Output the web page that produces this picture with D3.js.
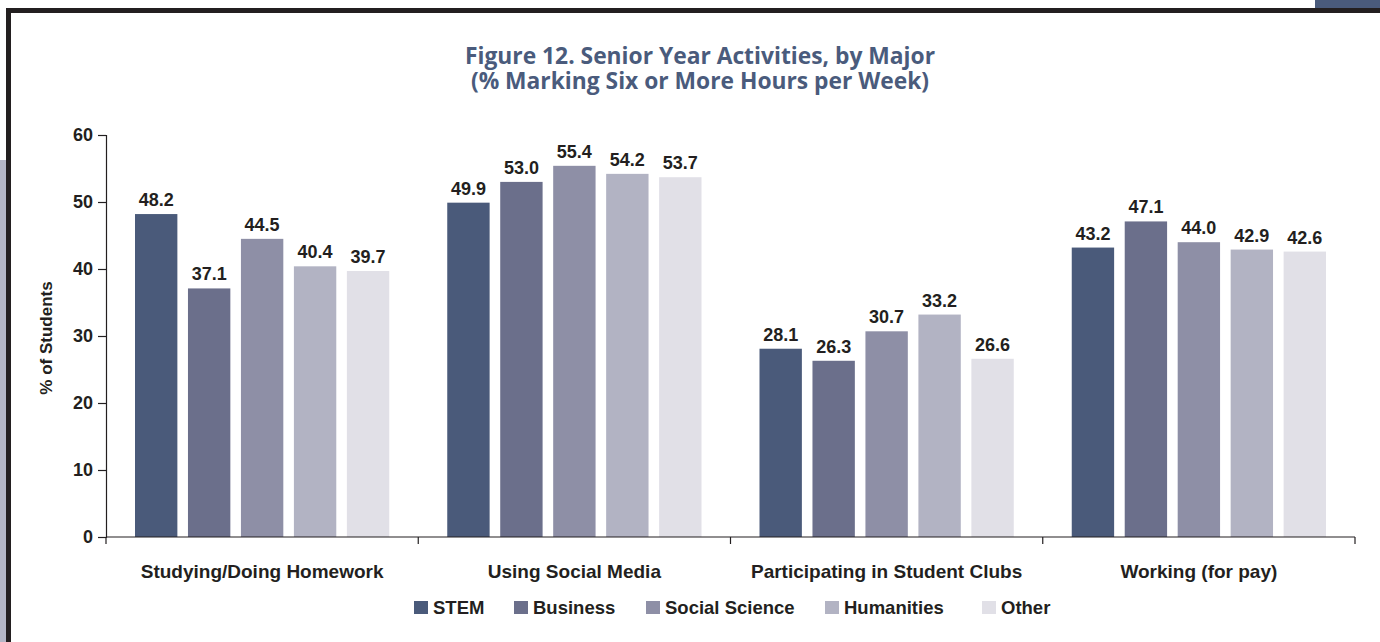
<!DOCTYPE html>
<html>
<head>
<meta charset="utf-8">
<script src="https://cdn.jsdelivr.net/npm/d3@7"></script>
<style>
  html, body { margin: 0; padding: 0; background: #fff; }
  svg { display: block; }
</style>
</head>
<body>
<svg id="chart" width="1380" height="642"></svg>
<script>
// Activities shown along the x axis
const activities = [
  "Studying/Doing Homework",
  "Using Social Media",
  "Participating in Student Clubs",
  "Working (for pay)"
];
// Majors (one bar per major inside each activity group)
const majors = ["STEM", "Business", "Social Science", "Humanities", "Other"];
const majorColors = ["#4a5a7a", "#6b6f8b", "#8e8fa6", "#b2b3c3", "#e1e0e7"];

// % of students marking six or more hours per week, per major
const stemValues        = [48.2, 49.9, 28.1, 43.2];
const businessValues    = [37.1, 53.0, 26.3, 47.1];
const socialSciValues   = [44.5, 55.4, 30.7, 44.0];
const humanitiesValues  = [40.4, 54.2, 33.2, 42.9];
const otherValues       = [39.7, 53.7, 26.6, 42.6];
const seriesValues = [stemValues, businessValues, socialSciValues, humanitiesValues, otherValues];

const yTicks = [0, 10, 20, 30, 40, 50, 60];

const titleLines = [
  "Figure 12. Senior Year Activities, by Major",
  "(% Marking Six or More Hours per Week)"
];

const svg = d3.select("#chart");
const labelFont = "'Liberation Sans', Arial, Helvetica, sans-serif";
const ink = "#231f20";

// Page frame
svg.append("rect").attr("x", 1315).attr("y", 0).attr("width", 65).attr("height", 9).attr("fill", "#4a5b7c");
svg.append("rect").attr("x", 0).attr("y", 160).attr("width", 7).attr("height", 482).attr("fill", "#b4b6c6");
svg.append("rect").attr("x", 6).attr("y", 8).attr("width", 1374).attr("height", 5).attr("fill", ink);
svg.append("rect").attr("x", 6).attr("y", 8).attr("width", 5).attr("height", 634).attr("fill", ink);

// Title, two lines
svg.append("g")
  .selectAll("text").data(titleLines).join("text")
  .attr("x", 700).attr("y", (d, i) => 64 + i * 25)
  .attr("text-anchor", "middle")
  .attr("fill", "#4a5b7c")
  .style("font-family", "'Open Sans', sans-serif")
  .style("font-weight", 700)
  .style("font-size", "22.8px")
  .text(d => d);

const plot = { left: 106, right: 1355, top: 135, bottom: 537 };

const x0 = d3.scaleBand().domain(activities).range([plot.left, plot.right]).padding(0);
const x1 = d3.scaleBand().domain(majors).range([29, x0.bandwidth() - 29]).paddingInner(0.2);
const y = d3.scaleLinear().domain([0, 60]).range([plot.bottom, plot.top]);

// Y axis
const yAxis = svg.append("g")
  .attr("transform", `translate(${plot.left},0)`)
  .call(d3.axisLeft(y).tickValues(yTicks).tickSize(8).tickPadding(5));
yAxis.select(".domain").attr("stroke", ink).attr("stroke-width", 1.2);
yAxis.selectAll(".tick line").attr("stroke", ink).attr("stroke-width", 1.2);
yAxis.selectAll(".tick text")
  .attr("fill", ink)
  .style("font-family", labelFont)
  .style("font-weight", 700)
  .style("font-size", "18px");

// Y axis title
svg.append("text")
  .attr("transform", `translate(52,${(plot.top + plot.bottom) / 2 + 2}) rotate(-90)`)
  .attr("text-anchor", "middle")
  .attr("fill", ink)
  .style("font-family", labelFont)
  .style("font-weight", 700)
  .style("font-size", "17px")
  .text("% of Students");

// Bars
const groups = svg.append("g").selectAll("g")
  .data(activities)
  .join("g")
  .attr("transform", d => `translate(${x0(d)},0)`);

const cells = groups.selectAll("g")
  .data((act, ai) => majors.map((m, mi) => ({ major: m, mi, value: seriesValues[mi][ai] })))
  .join("g");

cells.append("rect")
  .attr("x", d => x1(d.major))
  .attr("y", d => y(d.value))
  .attr("width", x1.bandwidth())
  .attr("height", d => y(0) - y(d.value))
  .attr("fill", d => majorColors[d.mi]);

cells.append("text")
  .attr("x", d => x1(d.major) + x1.bandwidth() / 2)
  .attr("y", d => y(d.value) - 8)
  .attr("text-anchor", "middle")
  .attr("fill", ink)
  .style("font-family", labelFont)
  .style("font-weight", 700)
  .style("font-size", "18px")
  .text(d => d.value.toFixed(1));

// X axis with ticks at group boundaries
const xAxis = svg.append("g").attr("transform", `translate(0,${plot.bottom})`);
xAxis.append("line")
  .attr("x1", plot.left).attr("x2", plot.right)
  .attr("stroke", ink).attr("stroke-width", 1.2);
const boundaries = activities.map(a => x0(a)).concat([x0(activities[activities.length - 1]) + x0.bandwidth()]);
xAxis.selectAll("line.tick").data(boundaries).join("line")
  .attr("class", "tick")
  .attr("x1", d => d).attr("x2", d => d)
  .attr("y1", 0).attr("y2", 7)
  .attr("stroke", ink).attr("stroke-width", 1.2);
xAxis.selectAll("text").data(activities).join("text")
  .attr("x", d => x0(d) + x0.bandwidth() / 2)
  .attr("y", 41)
  .attr("text-anchor", "middle")
  .attr("fill", ink)
  .style("font-family", labelFont)
  .style("font-weight", 700)
  .style("font-size", "19px")
  .text(d => d);

// Legend
const legendX = [414, 514, 646, 825, 982];
const legend = svg.append("g").attr("transform", "translate(0,614)");
const items = legend.selectAll("g").data(majors).join("g")
  .attr("transform", (d, i) => `translate(${legendX[i]},0)`);
items.append("rect")
  .attr("x", 0).attr("y", -13).attr("width", 14).attr("height", 13)
  .attr("fill", (d, i) => majorColors[i]);
items.append("text")
  .attr("x", 19).attr("y", 0)
  .attr("fill", ink)
  .style("font-family", labelFont)
  .style("font-weight", 700)
  .style("font-size", "18.5px")
  .text(d => d);
</script>
</body>
</html>
